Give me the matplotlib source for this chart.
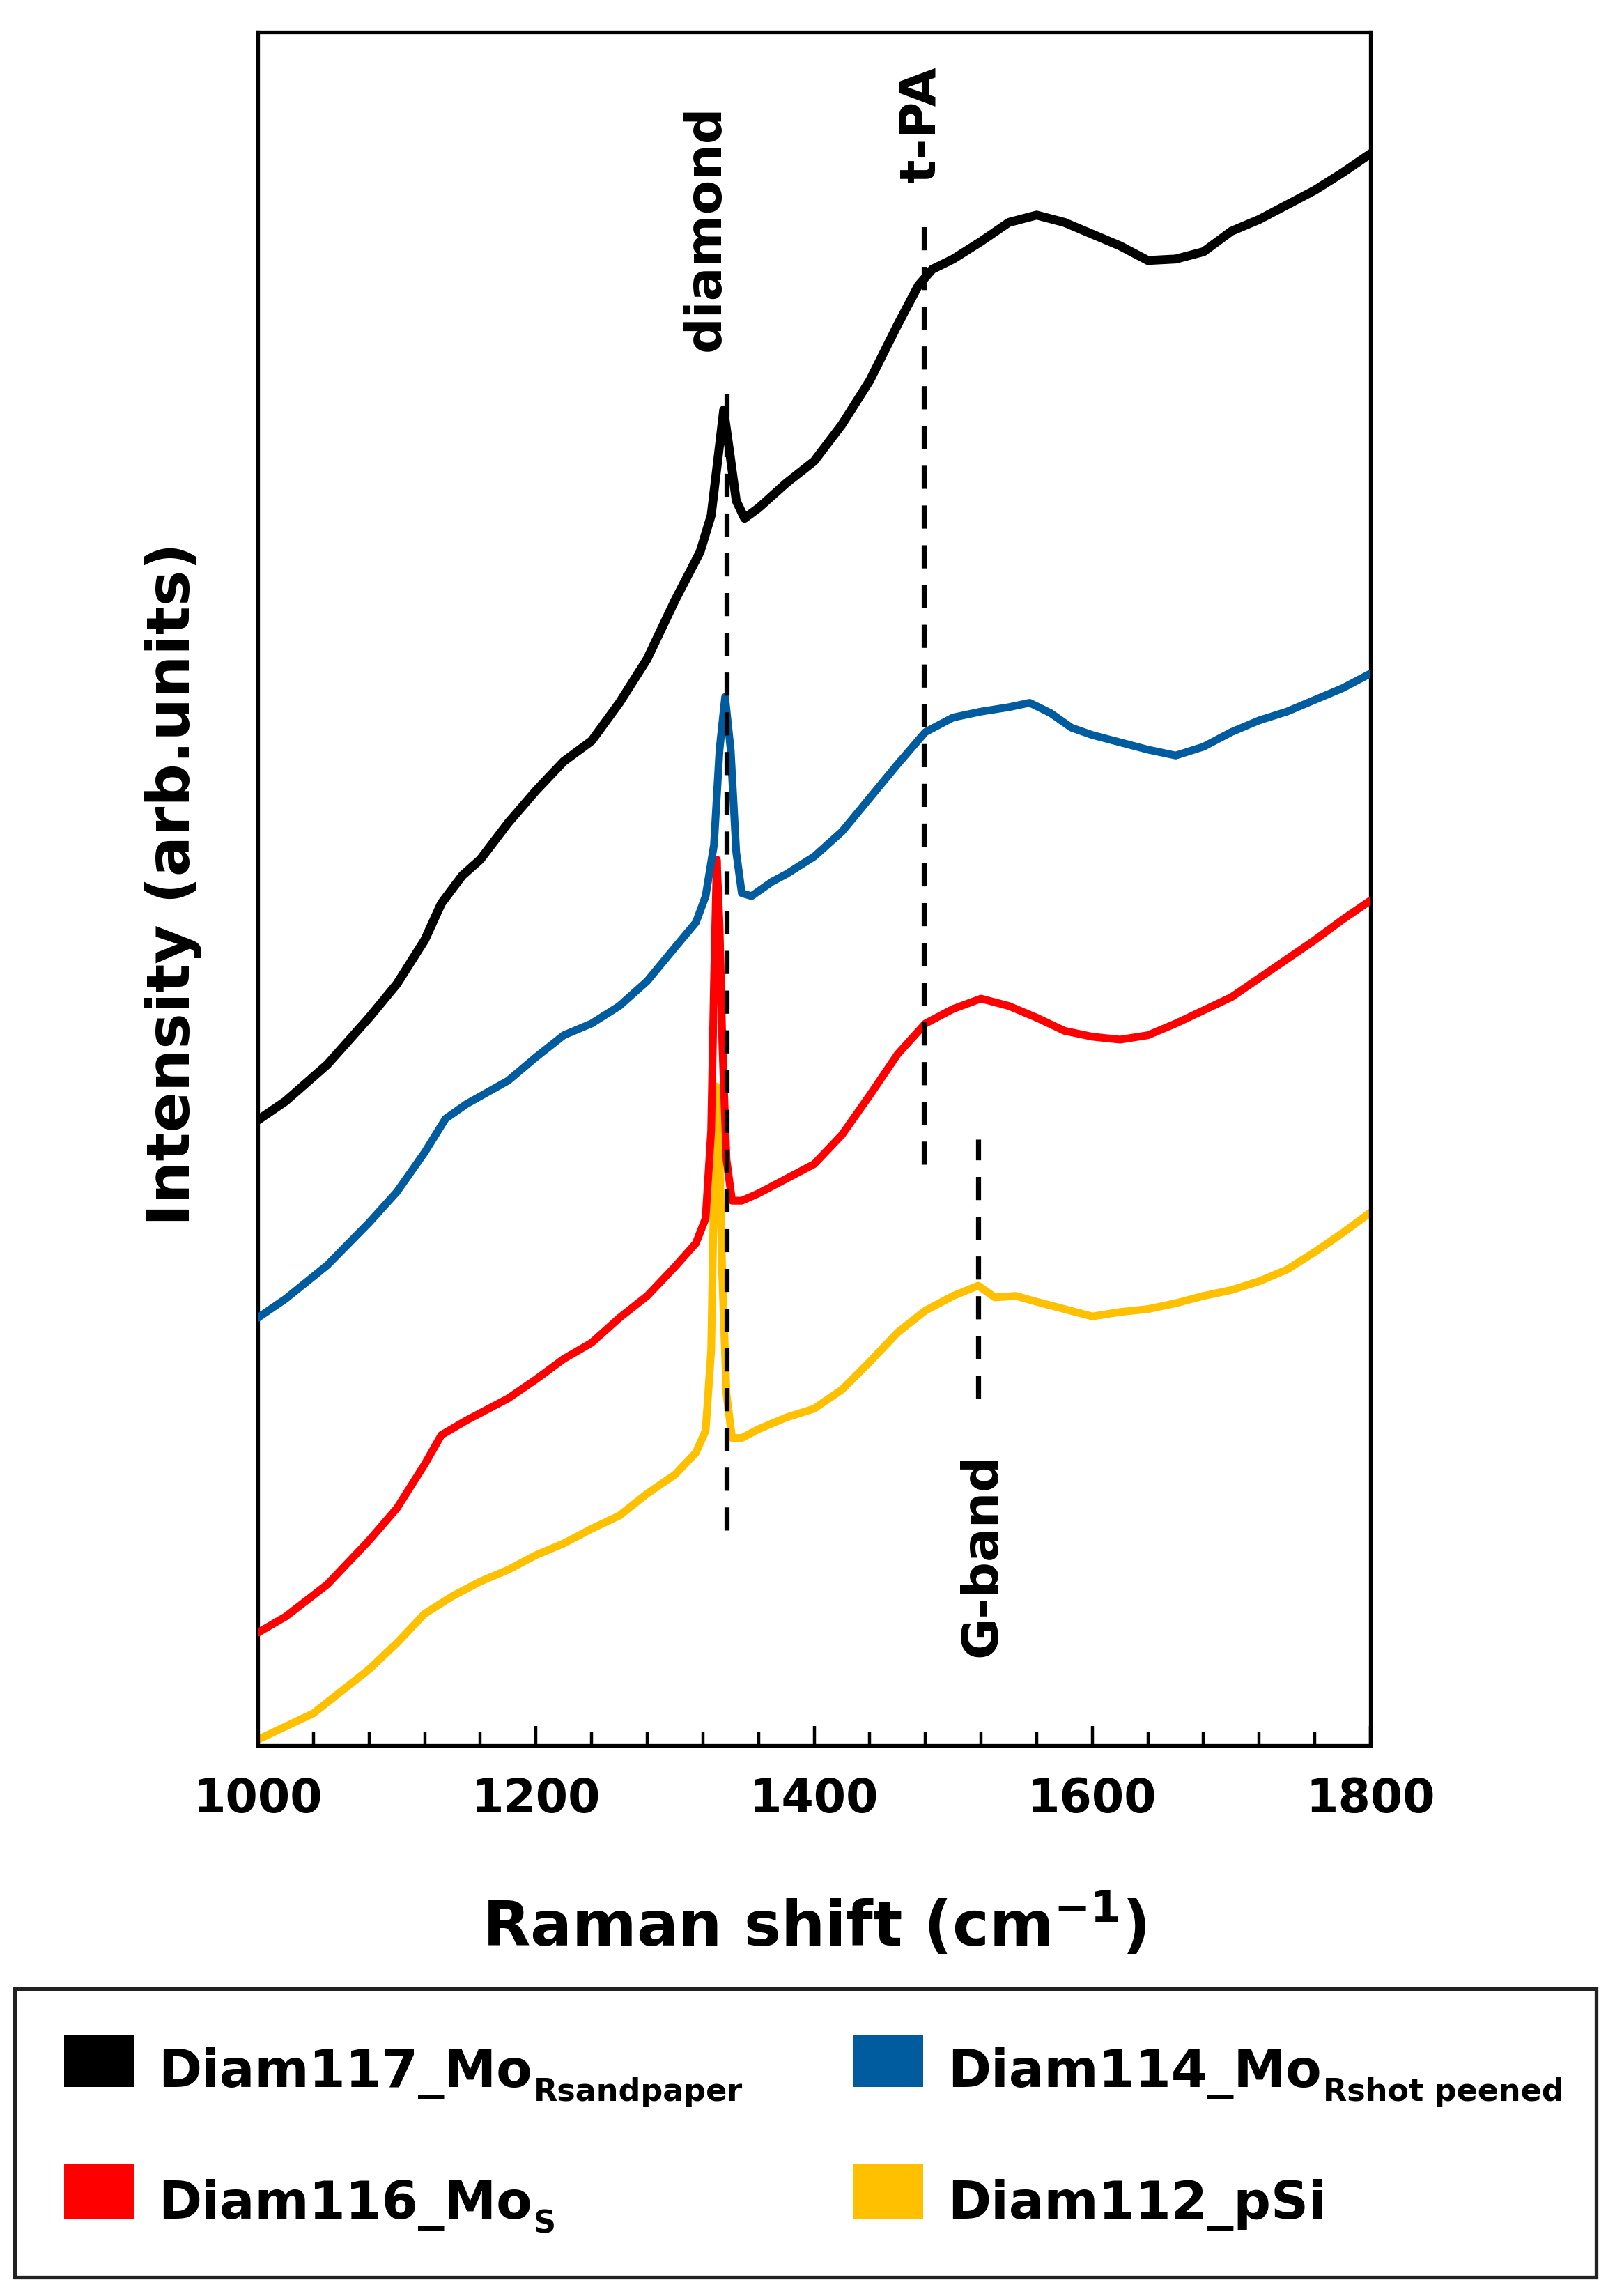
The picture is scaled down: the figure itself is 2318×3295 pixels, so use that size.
import matplotlib
matplotlib.use("Agg")
import matplotlib.pyplot as plt
from matplotlib.patches import Rectangle

# ---------------- data ----------------
black_x = [1000, 1020, 1050, 1080, 1100, 1120, 1132, 1147, 1160, 1180, 1200, 1220, 1240, 1260,
           1280, 1300, 1318, 1326, 1331, 1335, 1339, 1344, 1350, 1360, 1380, 1400, 1420, 1440,
           1460, 1475, 1485, 1500, 1520, 1540, 1560, 1580, 1600, 1620, 1640, 1660, 1680, 1700,
           1720, 1740, 1760, 1780, 1800]
black_y = [427, 440, 465, 497, 520, 550, 575, 594, 605, 630, 652, 672, 686, 712,
           742, 782, 815, 840, 880, 912, 885, 850, 838, 845, 862, 877, 902, 932,
           970, 997, 1008, 1015, 1027, 1040, 1045, 1040, 1032, 1024, 1014, 1015, 1020, 1034,
           1042, 1052, 1062, 1074, 1087]

blue_x = [1000, 1020, 1050, 1080, 1100, 1120, 1135, 1150, 1180, 1200, 1220, 1240, 1260, 1280,
          1300, 1315, 1322, 1328, 1332, 1336, 1340, 1344, 1348, 1355, 1370, 1380, 1400, 1420,
          1440, 1460, 1480, 1500, 1520, 1540, 1555, 1570, 1585, 1600, 1620, 1640, 1660, 1680,
          1700, 1720, 1740, 1760, 1780, 1800]
blue_y = [292, 305, 328, 357, 378, 405, 428, 438, 454, 470, 485, 493, 505, 522,
          545, 562, 580, 615, 680, 716, 680, 610, 582, 580, 590, 595, 607, 624,
          647, 670, 692, 702, 706, 709, 712, 705, 695, 690, 685, 680, 676, 682,
          692, 700, 706, 714, 722, 732]

red_x = [1000, 1020, 1050, 1080, 1100, 1120, 1132, 1150, 1180, 1200, 1220, 1240, 1260, 1280,
         1300, 1315, 1322, 1326, 1328, 1330, 1332, 1334, 1337, 1341, 1348, 1360, 1380, 1400,
         1420, 1440, 1460, 1480, 1500, 1520, 1540, 1560, 1580, 1600, 1620, 1640, 1660, 1680,
         1700, 1720, 1740, 1760, 1780, 1800]
red_y = [77, 88, 110, 140, 162, 192, 212, 222, 237, 250, 264, 275, 292, 307,
         327, 343, 360, 420, 520, 605, 560, 480, 400, 372, 372, 377, 387, 397,
         417, 444, 472, 493, 503, 510, 505, 497, 488, 484, 482, 485, 493, 502,
         511, 524, 537, 550, 564, 577]

yellow_x = [1000, 1020, 1040, 1060, 1080, 1100, 1120, 1140, 1160, 1180, 1200, 1220, 1240, 1260,
            1280, 1300, 1315, 1322, 1326, 1328, 1330, 1332, 1334, 1337, 1341, 1348, 1360, 1380,
            1400, 1420, 1440, 1460, 1480, 1500, 1518, 1530, 1545, 1560, 1580, 1600, 1620, 1640,
            1660, 1680, 1700, 1720, 1740, 1760, 1780, 1800]
yellow_y = [4, 13, 22, 37, 52, 70, 90, 102, 112, 120, 130, 138, 148, 157,
            172, 185, 200, 215, 270, 380, 450, 400, 320, 240, 210, 210, 216, 224,
            230, 243, 262, 282, 297, 307, 314, 306, 307, 303, 298, 293, 296, 298,
            302, 307, 311, 317, 325, 337, 350, 364]

series_names = ["Diam117_Mo", "Diam114_Mo", "Diam116_Mo", "Diam112_pSi"]
series_subs = ["Rsandpaper", "Rshot peened", "S", ""]
series_colors = ["#000000", "#005C9E", "#FF0000", "#FFC000"]

# peak marker lines: (position, y_start, y_end, label, label_y)
marker_pos = [1337, 1479, 1518]
marker_y0 = [147, 397, 237]
marker_y1 = [927, 1047, 414]
marker_labels = ["diamond", "t-PA", "G-band"]
marker_label_x = [1322, 1477, 1521]
marker_label_y = [1036, 1107, 130]

x_ticks = [1000, 1200, 1400, 1600, 1800]

# ---------------- figure ----------------
plt.rcParams['font.family'] = ['DejaVu Sans']
plt.rcParams['mathtext.default'] = 'bf'

W, H = 2318, 3295
fig = plt.figure(figsize=(W / 200, H / 200), dpi=200)

def fx(px):
    return px / W

def fy(py):
    return 1 - py / H

ax = fig.add_axes([fx(370), fy(2505), fx(1967) - fx(370), fy(46) - fy(2505)])

xs = [black_x, blue_x, red_x, yellow_x]
ys = [black_y, blue_y, red_y, yellow_y]
lws = [4.6, 4.0, 4.0, 4.0]
for i in [3, 2, 1, 0]:
    ax.plot(xs[i], ys[i], color=series_colors[i], lw=lws[i], solid_joinstyle='round',
            solid_capstyle='round', zorder=2 + (3 - i))

for xp, y0, y1 in zip(marker_pos, marker_y0, marker_y1):
    ax.plot([xp, xp], [y0, y1], color='black', lw=2.6, dashes=(4.6, 3.3), zorder=10)

for lx, ly, txt in zip(marker_label_x, marker_label_y, marker_labels):
    ax.text(lx, ly, txt, rotation=90, ha='center', va='center', fontsize=26,
            fontweight='bold', zorder=11)

ax.set_xlim(1000, 1800)
ax.set_ylim(0, 1170)
ax.set_xticks(x_ticks)
ax.set_xticks(range(1000, 1801, 40), minor=True)
ax.set_yticks([])
ax.tick_params(axis='x', which='major', direction='in', length=10, width=1.6,
               labelsize=24, pad=16)
ax.tick_params(axis='x', which='minor', direction='in', length=7, width=1.6)
for lab in ax.get_xticklabels():
    lab.set_fontweight('bold')
for sp in ax.spines.values():
    sp.set_linewidth(1.9)

ax.set_xlabel(r"Raman shift (cm$^{\mathbf{-1}}$)", fontsize=32, fontweight='bold')
ax.xaxis.set_label_coords(0.5, -(2764 - 2505) / (2505 - 46))
ax.xaxis.label.set_va('center')
ax.set_ylabel("Intensity (arb.units)", fontsize=31, fontweight='bold')
ax.yaxis.set_label_coords(-(370 - 248) / (1967 - 370), (2505 - 1269) / (2505 - 46))
ax.yaxis.label.set_va('center')

# ---------------- legend box (drawn on the figure) ----------------
fig.add_artist(Rectangle((fx(21), fy(3268)), fx(2291) - fx(21), fy(2854) - fy(3268),
                         transform=fig.transFigure, facecolor='white', edgecolor='#222222',
                         lw=1.9))
patch_x = [92, 1225, 92, 1225]
patch_top = [2921, 2921, 3106, 3106]
patch_bot = [2995, 2995, 3184, 3184]
text_x = [227, 1360, 227, 1360]
renderer = fig.canvas.get_renderer()
for i in range(4):
    fig.add_artist(Rectangle((fx(patch_x[i]), fy(patch_bot[i])), fx(100),
                             fy(patch_top[i]) - fy(patch_bot[i]),
                             transform=fig.transFigure, facecolor=series_colors[i],
                             edgecolor='none'))
    t = fig.text(fx(text_x[i]), fy(patch_bot[i]), series_names[i], fontsize=27,
                 fontweight='bold', ha='left', va='baseline')
    if series_subs[i]:
        bb = t.get_window_extent(renderer=renderer)
        fig.text(fx(bb.x1 + 2), fy(patch_bot[i] + 20), series_subs[i], fontsize=16,
                 fontweight='bold', ha='left', va='baseline')

fig.savefig("out.png", dpi=200, facecolor='white')
